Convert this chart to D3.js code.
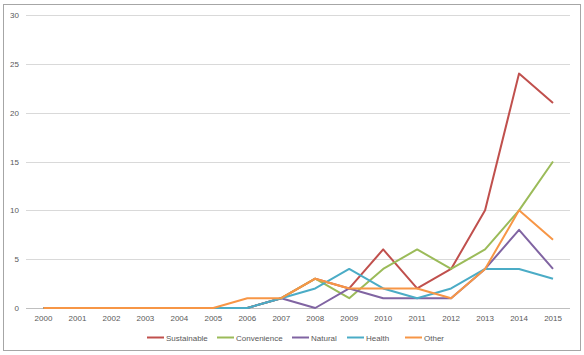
<!DOCTYPE html>
<html><head><meta charset="utf-8">
<script src="https://cdn.jsdelivr.net/npm/d3@7"></script>
<style>body{margin:0;background:#fff}svg{display:block}text{font-family:"Liberation Sans",Arial,sans-serif;fill:#595959}</style>
</head><body>
<svg id="c" width="584" height="355"></svg>
<script>
const years = ["2000","2001","2002","2003","2004","2005","2006","2007","2008","2009","2010","2011","2012","2013","2014","2015"];
const sustainable = [0,0,0,0,0,0,0,1,3,2,6,2,4,10,24,21];
const convenience = [0,0,0,0,0,0,0,1,3,1,4,6,4,6,10,15];
const natural     = [0,0,0,0,0,0,0,1,0,2,1,1,1,4,8,4];
const health      = [0,0,0,0,0,0,0,1,2,4,2,1,2,4,4,3];
const other       = [0,0,0,0,0,0,1,1,3,2,2,2,1,4,10,7];
const yTicks = [0,5,10,15,20,25,30];
const seriesNames = ["Sustainable","Convenience","Natural","Health","Other"];
const colors = ["#C0504D","#9BBB59","#8064A2","#4BACC6","#F79646"];
const seriesData = [sustainable,convenience,natural,health,other];

const svg = d3.select("#c");
svg.append("rect").attr("x",3.5).attr("y",4.5).attr("width",577).attr("height",346)
  .attr("fill","#fff").attr("stroke","#a6a6a6").attr("stroke-width",1);

const x = d3.scaleBand().domain(years).range([26.5,570]);
const y = d3.scaleLinear().domain([0,30]).range([308,15]);

svg.append("g").selectAll("line").data(yTicks.filter(d=>d>0)).join("line")
  .attr("x1",26).attr("x2",570).attr("y1",d=>Math.round(y(d))+0.5).attr("y2",d=>Math.round(y(d))+0.5)
  .attr("stroke","#d9d9d9");
svg.append("line").attr("x1",26).attr("x2",570).attr("y1",308.5).attr("y2",308.5).attr("stroke","#bfbfbf");

const yAxis = d3.axisLeft(y).tickValues(yTicks).tickSize(0).tickPadding(0);
const gy = svg.append("g").attr("transform","translate(19,0)").call(yAxis);
gy.select(".domain").remove();
gy.selectAll("text").attr("font-size","8px").attr("fill","#595959").style("font-family","Liberation Sans, Arial, sans-serif");

const xAxis = d3.axisBottom(x).tickSize(0).tickPadding(0);
const gx = svg.append("g").attr("transform","translate(0,315)").call(xAxis);
gx.select(".domain").remove();
gx.selectAll("text").attr("font-size","8px").attr("fill","#595959").style("font-family","Liberation Sans, Arial, sans-serif");

const line = d3.line().x((d,i)=>x(years[i])+x.bandwidth()/2).y(d=>y(d));
seriesData.forEach((s,k)=>{
  svg.append("path").datum(s).attr("d",line).attr("fill","none")
    .attr("stroke",colors[k]).attr("stroke-width",2).attr("stroke-linejoin","round");
});

const legX = [147,217,292,347,405];
const lg = svg.append("g");
seriesNames.forEach((n,k)=>{
  lg.append("line").attr("x1",legX[k]).attr("x2",legX[k]+17).attr("y1",337.5).attr("y2",337.5)
    .attr("stroke",colors[k]).attr("stroke-width",2);
  lg.append("text").attr("x",legX[k]+19).attr("y",340.5).attr("font-size","8px").text(n);
});
</script>
</body></html>
